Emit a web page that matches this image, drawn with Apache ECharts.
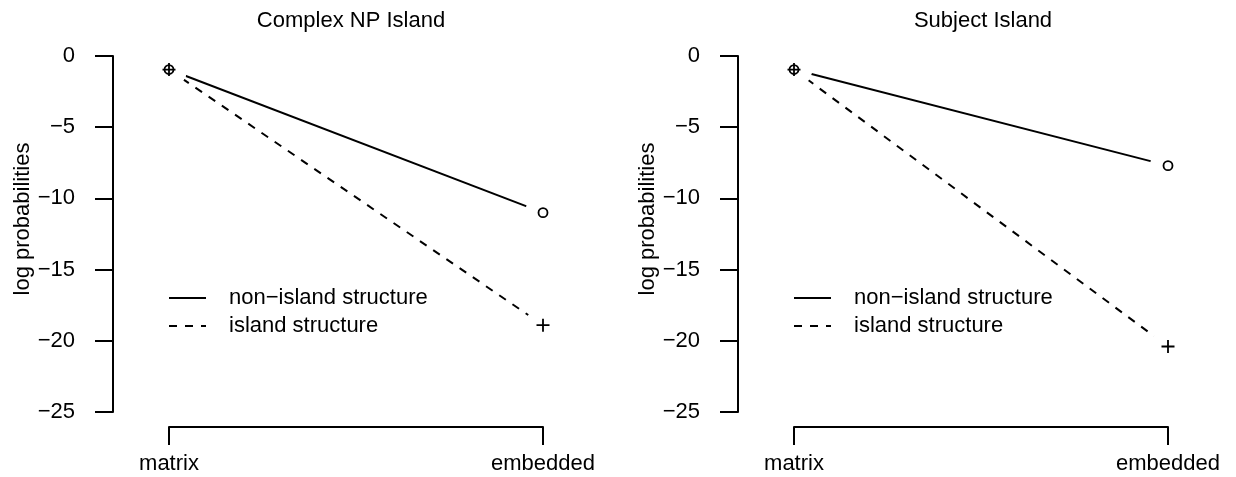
<!DOCTYPE html>
<html>
<head>
<meta charset="utf-8">
<title>Island structures</title>
<script src="https://cdn.jsdelivr.net/npm/echarts@6/dist/echarts.min.js"></script>
<style>
  html, body { margin: 0; padding: 0; background: #fff; }
  #chart { width: 1236px; height: 477px; }
</style>
</head>
<body>
<div id="chart"></div>
<script>
// 数据
const categories = ['matrix', 'embedded'];
const panelTitles = ['Complex NP Island', 'Subject Island'];
const seriesNames = ['non\u2212island structure', 'island structure'];
const complexNonIsland = [-0.95, -11.0];
const complexIsland = [-0.95, -18.9];
const subjectNonIsland = [-0.95, -7.7];
const subjectIsland = [-0.95, -20.4];

const FONT = 'Liberation Sans, Helvetica, Arial, sans-serif';
const FS = 22;
const PLUS = 'path://M0,6H12M6,0V12';

// 两个面板的位置
const panels = [
    { left: 169, title: 351, data: [complexNonIsland, complexIsland] },
    { left: 794, title: 983, data: [subjectNonIsland, subjectIsland] }
];

function buildOption() {
    const grid = [], xAxis = [], yAxis = [], series = [], title = [], legend = [];

    panels.forEach(function (p, i) {
        grid.push({ left: p.left, width: 374, top: 56, height: 356 });

        title.push({
            text: panelTitles[i],
            left: p.title, top: 10, textAlign: 'center', padding: 0,
            textStyle: { fontFamily: FONT, fontSize: FS, fontWeight: 'normal', color: '#000' }
        });

        xAxis.push({
            type: 'category', gridIndex: i, data: categories, boundaryGap: false,
            position: 'bottom', offset: 15,
            axisLine: { onZero: false, lineStyle: { color: '#000', width: 2 } },
            axisTick: { length: 18, lineStyle: { color: '#000', width: 2 } },
            axisLabel: { margin: 26, color: '#000', fontFamily: FONT, fontSize: FS },
            splitLine: { show: false }
        });

        yAxis.push({
            type: 'value', gridIndex: i, min: -25, max: 0, interval: 5,
            offset: 56,
            name: 'log probabilities', nameLocation: 'middle', nameRotate: 90, nameGap: 78,
            nameTextStyle: { fontFamily: FONT, fontSize: FS, color: '#000', padding: [0, 0, 0, 30] },
            axisLine: { show: true, lineStyle: { color: '#000', width: 2 } },
            axisTick: { show: true, length: 18, lineStyle: { color: '#000', width: 2 } },
            axisLabel: {
                margin: 38, color: '#000', fontFamily: FONT, fontSize: FS,
                formatter: function (v) { return String(v).replace('-', '\u2212'); }
            },
            splitLine: { show: false }
        });

        // 线条
        series.push({
            name: seriesNames[0], type: 'line', xAxisIndex: i, yAxisIndex: i,
            data: p.data[0], symbol: 'none', z: 2, silent: true,
            lineStyle: { color: '#000', width: 2, type: 'solid' }
        });
        series.push({
            name: seriesNames[1], type: 'line', xAxisIndex: i, yAxisIndex: i,
            data: p.data[1], symbol: 'none', z: 2, silent: true,
            lineStyle: { color: '#000', width: 2, type: [8, 8] }
        });

        // 点周围的空白 (type="b")
        p.data.forEach(function (d) {
            series.push({
                name: 'gap', type: 'scatter', xAxisIndex: i, yAxisIndex: i,
                data: d, symbol: 'circle', symbolSize: 36, z: 3, silent: true,
                itemStyle: { color: '#fff', opacity: 1 }
            });
        });

        // 点
        series.push({
            name: 'pts0', type: 'scatter', xAxisIndex: i, yAxisIndex: i,
            data: p.data[0], symbol: 'circle', symbolSize: 9, z: 4, silent: true,
            itemStyle: { color: 'rgba(0,0,0,0)', borderColor: '#000', borderWidth: 1.8, opacity: 1 }
        });
        series.push({
            name: 'pts1', type: 'scatter', xAxisIndex: i, yAxisIndex: i,
            data: p.data[1], symbol: PLUS, symbolSize: 13, z: 4, silent: true,
            itemStyle: { color: 'rgba(0,0,0,0)', borderColor: '#000', borderWidth: 1.8, opacity: 1 }
        });

        legend.push({
            data: seriesNames, orient: 'vertical',
            left: p.left - 1, top: 287, padding: 0,
            itemWidth: 37, itemHeight: 22, itemGap: 6,
            selectedMode: false,
            itemStyle: { opacity: 0 },
            textStyle: { fontFamily: FONT, fontSize: FS, color: '#000', padding: [0, 0, 0, 18] }
        });
    });

    return {
        backgroundColor: '#fff',
        animation: false,
        title: title, legend: legend,
        grid: grid, xAxis: xAxis, yAxis: yAxis, series: series
    };
}

function init() {
    const chart = echarts.init(document.getElementById('chart'), null, { renderer: 'canvas' });
    chart.setOption(buildOption());
}

window.addEventListener('DOMContentLoaded', init);
</script>
</body>
</html>
